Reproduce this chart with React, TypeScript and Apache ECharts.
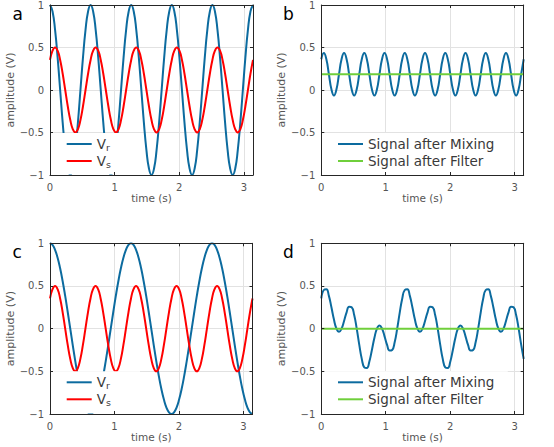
import React, { useEffect, useRef } from 'react';
import * as echarts from 'echarts';

// ---------- data ----------
// samples are taken on an even time grid from 0 to pi (81 samples)
const T_MAX = Math.PI;
const xTickValues = [0, 1, 2, 3];
const yTickValues = [-1, -0.5, 0, 0.5, 1];

// panel a: reference signal Vr (fast)
const vrFast = [
  1, 0.924, 0.707, 0.383, 0, -0.383, -0.707, -0.924, -1, -0.924, -0.707, -0.383, 0, 0.383, 0.707, 0.924,
  1, 0.924, 0.707, 0.383, 0, -0.383, -0.707, -0.924, -1, -0.924, -0.707, -0.383, 0, 0.383, 0.707, 0.924,
  1, 0.924, 0.707, 0.383, 0, -0.383, -0.707, -0.924, -1, -0.924, -0.707, -0.383, 0, 0.383, 0.707, 0.924,
  1, 0.924, 0.707, 0.383, 0, -0.383, -0.707, -0.924, -1, -0.924, -0.707, -0.383, 0, 0.383, 0.707, 0.924,
  1, 0.924, 0.707, 0.383, 0, -0.383, -0.707, -0.924, -1, -0.924, -0.707, -0.383, 0, 0.383, 0.707, 0.924,
  1,
];

// panels a and c: signal Vs
const vsSignal = [
  0.354, 0.462, 0.5, 0.462, 0.354, 0.191, 0, -0.191, -0.354, -0.462, -0.5, -0.462, -0.354, -0.191, 0, 0.191,
  0.354, 0.462, 0.5, 0.462, 0.354, 0.191, 0, -0.191, -0.354, -0.462, -0.5, -0.462, -0.354, -0.191, 0, 0.191,
  0.354, 0.462, 0.5, 0.462, 0.354, 0.191, 0, -0.191, -0.354, -0.462, -0.5, -0.462, -0.354, -0.191, 0, 0.191,
  0.354, 0.462, 0.5, 0.462, 0.354, 0.191, 0, -0.191, -0.354, -0.462, -0.5, -0.462, -0.354, -0.191, 0, 0.191,
  0.354, 0.462, 0.5, 0.462, 0.354, 0.191, 0, -0.191, -0.354, -0.462, -0.5, -0.462, -0.354, -0.191, 0, 0.191,
  0.354,
];

// panel b: signal after mixing
const mixB = [
  0.362, 0.435, 0.362, 0.185, 0.008, -0.065, 0.008, 0.185,
  0.362, 0.435, 0.362, 0.185, 0.008, -0.065, 0.008, 0.185,
  0.362, 0.435, 0.362, 0.185, 0.008, -0.065, 0.008, 0.185,
  0.362, 0.435, 0.362, 0.185, 0.008, -0.065, 0.008, 0.185,
  0.362, 0.435, 0.362, 0.185, 0.008, -0.065, 0.008, 0.185,
  0.362, 0.435, 0.362, 0.185, 0.008, -0.065, 0.008, 0.185,
  0.362, 0.435, 0.362, 0.185, 0.008, -0.065, 0.008, 0.185,
  0.362, 0.435, 0.362, 0.185, 0.008, -0.065, 0.008, 0.185,
  0.362, 0.435, 0.362, 0.185, 0.008, -0.065, 0.008, 0.185,
  0.362, 0.435, 0.362, 0.185, 0.008, -0.065, 0.008, 0.185,
  0.362,
];
const filterB = [0.185, 0.185];

// panel c: reference signal Vr (slow)
const vrSlow = [
  1, 0.981, 0.924, 0.831, 0.707, 0.556, 0.383, 0.195, 0, -0.195, -0.383, -0.556, -0.707, -0.831, -0.924, -0.981,
  -1, -0.981, -0.924, -0.831, -0.707, -0.556, -0.383, -0.195, 0, 0.195, 0.383, 0.556, 0.707, 0.831, 0.924, 0.981,
  1, 0.981, 0.924, 0.831, 0.707, 0.556, 0.383, 0.195, 0, -0.195, -0.383, -0.556, -0.707, -0.831, -0.924, -0.981,
  -1, -0.981, -0.924, -0.831, -0.707, -0.556, -0.383, -0.195, 0, 0.195, 0.383, 0.556, 0.707, 0.831, 0.924, 0.981,
  1, 0.981, 0.924, 0.831, 0.707, 0.556, 0.383, 0.195, 0, -0.195, -0.383, -0.556, -0.707, -0.831, -0.924, -0.981,
  -1,
];

// panel d: signal after mixing
const mixD = [
  0.354, 0.453, 0.462, 0.384, 0.25, 0.106, 0, -0.037, 0, 0.09, 0.191, 0.257, 0.25, 0.159, 0, -0.187,
  -0.354, -0.453, -0.462, -0.384, -0.25, -0.106, 0, 0.037, 0, -0.09, -0.191, -0.257, -0.25, -0.159, 0, 0.187,
  0.354, 0.453, 0.462, 0.384, 0.25, 0.106, 0, -0.037, 0, 0.09, 0.191, 0.257, 0.25, 0.159, 0, -0.187,
  -0.354, -0.453, -0.462, -0.384, -0.25, -0.106, 0, 0.037, 0, -0.09, -0.191, -0.257, -0.25, -0.159, 0, 0.187,
  0.354, 0.453, 0.462, 0.384, 0.25, 0.106, 0, -0.037, 0, 0.09, 0.191, 0.257, 0.25, 0.159, 0, -0.187,
  -0.354,
];
const filterD = [0, 0];

const panelLetters = ['a', 'b', 'c', 'd'];

// ---------- styling ----------
const FONT = 'DejaVu Sans';
const BLUE = '#0c6b9f';
const RED = '#ff0000';
const GREEN = '#6fcf3b';
const FRAME = '#262626';
const GRID_LINE = '#e2e2e2';
const TICK_TEXT = '#555555';
const LEGEND_TEXT = '#3a3a3a';

type SeriesDef = { name: string; values: number[]; color: string };
type PanelDef = {
  left: number; top: number; width: number; height: number;
  boxWidth: number; series: SeriesDef[]; legendNames: string[]; sub: boolean;
};

const PANELS: PanelDef[] = [
  {
    left: 50, top: 5, width: 203, height: 170, boxWidth: 89.5, sub: true,
    series: [
      { name: 'Vr', values: vrFast, color: BLUE },
      { name: 'Vs', values: vsSignal, color: RED },
    ],
    legendNames: ['Vr', 'Vs'],
  },
  {
    left: 321.3, top: 5, width: 202.4, height: 170, boxWidth: 186, sub: false,
    series: [
      { name: 'Signal after Mixing', values: mixB, color: BLUE },
      { name: 'Signal after Filter', values: filterB, color: GREEN },
    ],
    legendNames: ['Signal after Mixing', 'Signal after Filter'],
  },
  {
    left: 50, top: 243.3, width: 202.5, height: 170.7, boxWidth: 89.5, sub: true,
    series: [
      { name: 'Vr', values: vrSlow, color: BLUE },
      { name: 'Vs', values: vsSignal, color: RED },
    ],
    legendNames: ['Vr', 'Vs'],
  },
  {
    left: 321.3, top: 243.3, width: 202.4, height: 170.7, boxWidth: 186, sub: false,
    series: [
      { name: 'Signal after Mixing', values: mixD, color: BLUE },
      { name: 'Signal after Filter', values: filterD, color: GREEN },
    ],
    legendNames: ['Signal after Mixing', 'Signal after Filter'],
  },
];

function toPairs(values: number[]): number[][] {
  const n = values.length - 1;
  return values.map((v, k) => [(k * T_MAX) / n, v]);
}

function fmtY(v: number): string {
  if (!yTickValues.includes(v)) return '';
  if (v < 0) return '\u2212' + String(Math.abs(v));
  return String(v);
}
function fmtX(v: number): string {
  return xTickValues.includes(v) ? String(v) : '';
}

function buildOption() {
  const grid: any[] = [];
  const xAxis: any[] = [];
  const yAxis: any[] = [];
  const series: any[] = [];
  const legend: any[] = [];
  const graphic: any[] = [];

  PANELS.forEach((p, i) => {
    grid.push({ left: p.left, top: p.top, width: p.width, height: p.height, show: false });

    const xBase = { type: 'value', gridIndex: i, min: 0, max: T_MAX, interval: 1 };
    const yBase = { type: 'value', gridIndex: i, min: -1, max: 1, interval: 0.5 };
    const hidden = { axisLine: { show: false }, axisTick: { show: false }, axisLabel: { show: false } };
    const frameLine = { show: true, onZero: false, lineStyle: { color: FRAME, width: 1 } };
    const frameTick = { show: true, inside: true, length: 3, lineStyle: { color: FRAME, width: 1 } };

    // grid lines (behind the curves)
    xAxis.push({ ...xBase, position: 'bottom', z: 0, ...hidden,
      splitLine: { show: true, lineStyle: { color: GRID_LINE, width: 1 } } });
    // bottom frame with labels
    xAxis.push({ ...xBase, position: 'bottom', z: 10, axisLine: frameLine, axisTick: frameTick,
      splitLine: { show: false },
      axisLabel: { show: true, margin: 7, color: TICK_TEXT, fontSize: 10, fontFamily: FONT,
        showMaxLabel: false, formatter: fmtX },
      name: 'time (s)', nameLocation: 'middle', nameGap: 17,
      nameTextStyle: { color: TICK_TEXT, fontSize: 10.5, fontFamily: FONT } });
    // top frame
    xAxis.push({ ...xBase, position: 'top', z: 10, axisLine: frameLine, axisTick: frameTick,
      splitLine: { show: false }, axisLabel: { show: false } });

    yAxis.push({ ...yBase, position: 'left', z: 0, ...hidden,
      splitLine: { show: true, lineStyle: { color: GRID_LINE, width: 1 } } });
    yAxis.push({ ...yBase, position: 'left', z: 10, axisLine: frameLine, axisTick: frameTick,
      splitLine: { show: false },
      axisLabel: { show: true, margin: 6, color: TICK_TEXT, fontSize: 10, fontFamily: FONT,
        showMinLabel: true, showMaxLabel: true, formatter: fmtY },
      name: 'amplitude (V)', nameLocation: 'middle', nameGap: 26,
      nameTextStyle: { color: TICK_TEXT, fontSize: 11, fontFamily: FONT } });
    yAxis.push({ ...yBase, position: 'right', z: 10, axisLine: frameLine, axisTick: frameTick,
      splitLine: { show: false }, axisLabel: { show: false } });

    p.series.forEach((s) => {
      const data = s.values.length === 2
        ? [[0, s.values[0]], [T_MAX, s.values[1]]]
        : toPairs(s.values);
      series.push({
        type: 'line', name: s.name, xAxisIndex: i * 3, yAxisIndex: i * 3, data,
        smooth: s.values.length > 2, showSymbol: false, symbol: 'none', z: 2,
        color: s.color, itemStyle: { color: s.color },
        lineStyle: { color: s.color, width: 2 },
      });
    });

    legend.push({
      orient: 'vertical', left: p.left + 16.7, top: p.top + 130.5, padding: 0,
      itemGap: 0, itemWidth: 25, itemHeight: 2, itemTextGap: 7, icon: 'rect',
      selectedMode: false, data: p.legendNames, z: 5,
      formatter: p.sub ? (name: string) => 'V{sub|' + name.slice(1) + '}' : undefined,
      textStyle: {
        fontFamily: FONT, fontSize: 13.5, color: LEGEND_TEXT, lineHeight: 17,
        rich: {
          sub: { fontFamily: FONT, fontSize: 9.5, color: LEGEND_TEXT, lineHeight: 4, verticalAlign: 'bottom' },
        },
      },
    });

    // white legend box (covers curves and grid lines)
    graphic.push({
      type: 'rect', z: 3, silent: true,
      shape: { x: p.left + 0.5, y: p.top + 128, width: p.boxWidth, height: p.height - 128 - 0.5 },
      style: { fill: '#ffffff' },
    });

    // panel letter
    graphic.push({
      type: 'text', z: 6, silent: true,
      x: i % 2 === 0 ? 12.5 : 283, y: p.top + 9,
      style: { text: panelLetters[i], fontFamily: FONT, fontSize: 17, fill: '#000000',
        verticalAlign: 'middle', align: 'left' },
    });
  });

  return {
    animation: false,
    backgroundColor: '#ffffff',
    textStyle: { fontFamily: FONT },
    grid, xAxis, yAxis, series, legend, graphic,
  };
}

export default function App() {
  const ref = useRef<HTMLDivElement>(null);
  useEffect(() => {
    document.body.style.margin = '0';
    if (!ref.current) return;
    const chart = echarts.init(ref.current, undefined, { renderer: 'svg' });
    chart.setOption(buildOption() as any);
    return () => chart.dispose();
  }, []);
  return <div ref={ref} style={{ width: 554, height: 447 }} />;
}
